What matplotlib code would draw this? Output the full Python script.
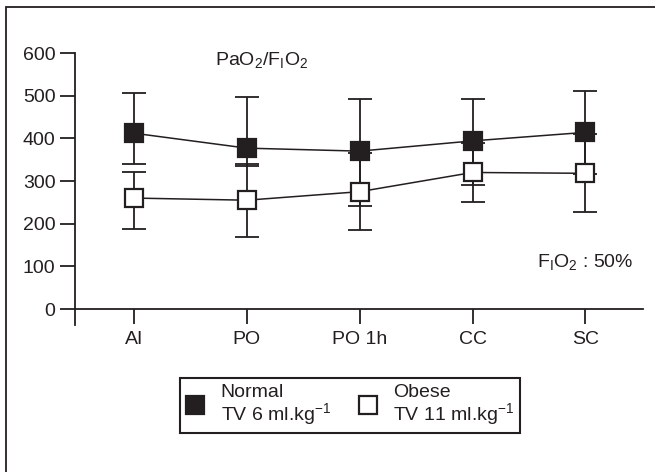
import matplotlib.pyplot as plt
from matplotlib.lines import Line2D
from matplotlib.patches import Rectangle

plt.rcParams['font.family'] = ['Liberation Sans', 'DejaVu Sans']
plt.rcParams['mathtext.fontset'] = 'custom'
plt.rcParams['mathtext.rm'] = 'Liberation Sans'
plt.rcParams['mathtext.it'] = 'Liberation Sans'

# data
moments = ['AI', 'PO', 'PO 1h', 'CC', 'SC']
normal_mean = [412, 377, 370, 394, 414]
normal_upper = [506, 497, 492, 492, 511]
normal_lower = [340, 335, 241, 290, 317]
obese_mean = [260, 255, 275, 320, 318]
obese_upper = [320, 340, 365, 389, 409]
obese_lower = [188, 169, 185, 251, 227]

ink = '#231f20'
x = list(range(1, len(moments) + 1))

fig = plt.figure(figsize=(6.55, 4.72), dpi=100)
ax = fig.add_axes([75 / 655, 1 - 325 / 472, (643 - 75) / 655, (325 - 53) / 472])

# outer frame (cut off at right and bottom like the original)
fig.patches.append(Rectangle((6 / 655, -0.05), 1.2, 1 - 7 / 472 + 0.05, transform=fig.transFigure,
                             fill=False, edgecolor=ink, linewidth=1.3))

def err(mean, lo, hi):
    return [[m - l for m, l in zip(mean, lo)], [h - m for m, h in zip(mean, hi)]]

ax.errorbar(x, normal_mean, yerr=err(normal_mean, normal_lower, normal_upper), fmt='none',
            ecolor=ink, elinewidth=1.3, capsize=8.5, capthick=1.3, zorder=1)
ax.errorbar(x, obese_mean, yerr=err(obese_mean, obese_lower, obese_upper), fmt='none',
            ecolor=ink, elinewidth=1.3, capsize=8.5, capthick=1.3, zorder=1)
ax.plot(x, obese_mean, color=ink, lw=1.1, marker='s', ms=13, mfc='white', mec=ink, mew=1.6, zorder=3)
ax.plot(x, normal_mean, color=ink, lw=1.1, marker='s', ms=13, mfc=ink, mec=ink, mew=1.6, zorder=4)

ax.set_xlim(0.478, 5.51)
ax.set_ylim(-37.5, 600)
ax.set_yticks([0, 100, 200, 300, 400, 500, 600])
ax.set_xticks(x)
ax.set_xticklabels(moments)
for s in ['top', 'right']:
    ax.spines[s].set_visible(False)
ax.spines['bottom'].set_position(('data', 0))
for s in ['left', 'bottom']:
    ax.spines[s].set_color(ink)
    ax.spines[s].set_linewidth(1.3)
ax.tick_params(axis='y', length=11, width=1.3, color=ink, labelsize=14, pad=3, labelcolor=ink)
ax.tick_params(axis='x', length=11, width=1.3, color=ink, labelsize=14, pad=5, labelcolor=ink)
ax.patch.set_visible(False)

fig.text(262 / 655, 1 - 60 / 472, r'PaO$_2$/F$_\mathrm{I}$O$_2$', fontsize=14, color=ink,
         ha='center', va='center')
fig.text(585 / 655, 1 - 262 / 472, r'F$_\mathrm{I}$O$_2$ : 50%', fontsize=14, color=ink,
         ha='center', va='center')

handles = [Line2D([], [], ls='none', marker='s', ms=13, mfc=ink, mec=ink, mew=1.6),
           Line2D([], [], ls='none', marker='s', ms=13, mfc='white', mec=ink, mew=1.6)]
labels = ['Normal\nTV 6 ml.kg$^{-1}$', 'Obese\nTV 11 ml.kg$^{-1}$']
leg = fig.legend(handles, labels, ncol=2, loc='center', bbox_to_anchor=(350 / 655, 1 - 405.5 / 472),
                 fontsize=14, fancybox=False, edgecolor=ink, framealpha=1, handlelength=1.0,
                 handletextpad=0.8, columnspacing=1.4, borderpad=0.3)
leg.get_frame().set_linewidth(1.5)
for t in leg.get_texts():
    t.set_color(ink)
    t.set_linespacing(1.0)

fig.savefig('out.png', dpi=100)
